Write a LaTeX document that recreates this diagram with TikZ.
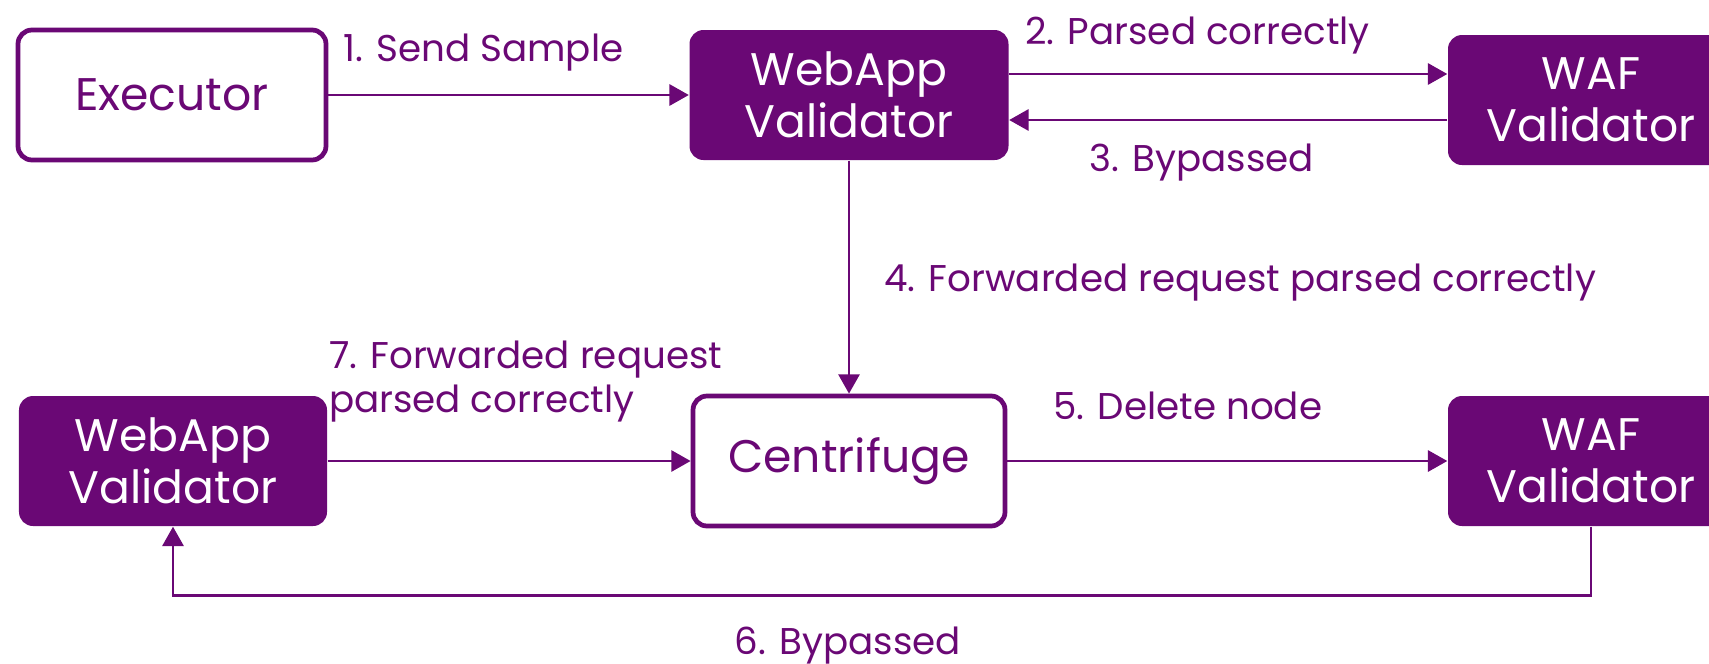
\documentclass[tikz,border=0pt]{standalone}
\usepackage{fontspec}
\setmainfont{Poppins}
\usetikzlibrary{arrows.meta,calc,positioning}
\definecolor{wafpurple}{HTML}{6A0875}
\tikzset{
  box/.style={rectangle, rounded corners=1.4mm, minimum width=3.1cm, minimum height=1.3cm,
    align=center, inner sep=0pt, font=\fontsize{13}{14.8}\selectfont},
  hollow/.style={box, draw=wafpurple, line width=1.35pt, fill=white, text=wafpurple},
  validator/.style={box, fill=wafpurple, text=white},
  flow/.style={-{Triangle[length=5.5pt,width=6pt]}, draw=wafpurple, line width=0.75pt},
  lbl/.style={text=wafpurple, inner sep=0pt, font=\fontsize{10.6}{12.5}\selectfont}
}
\begin{document}
\begin{tikzpicture}
\clip (0,0) rectangle (17.09,6.63);
% top row
\node[hollow, minimum width=3.08cm] (exec) at (1.72,5.68) {Executor};
\node[validator, minimum width=3.19cm] (val1) at (8.49,5.68) {WebApp\\Validator};
\node[validator, minimum width=2.86cm] (waf1) at (15.91,5.63) {WAF\\Validator};
% bottom row
\node[validator, minimum width=3.08cm] (val2) at (1.73,2.02) {WebApp\\Validator};
\node[hollow, minimum width=3.12cm] (centri) at (8.49,2.02) {Centrifuge};
\node[validator, minimum width=2.86cm] (waf2) at (15.91,2.02) {WAF\\Validator};
% steps
\draw[flow] (exec) -- node[lbl, pos=0.43, anchor=base, yshift=3.4mm] {1. Send Sample} (val1);
\coordinate (p2) at ($(val1.east)+(0,0.21)$);
\draw[flow] (p2) -- node[lbl, pos=0.43, anchor=base, yshift=3.0mm] {2. Parsed correctly} (p2 -| waf1.west);
\coordinate (p3) at ($(waf1.west)+(0,-0.20)$);
\draw[flow] (p3) -- node[lbl, pos=0.56, anchor=base, yshift=-5.1mm] {3. Bypassed} (p3 -| val1.east);
\draw[flow] (val1) -- node[lbl, pos=0.56, anchor=base west, xshift=3.4mm] {4. Forwarded request parsed correctly} (centri);
\draw[flow] (centri) -- node[lbl, pos=0.41, anchor=base, yshift=4.2mm] {5. Delete node} (waf2);
\draw[flow] (waf2.south) -- ++(0,-0.685) -| node[lbl, pos=0.262, anchor=base, yshift=-5.9mm] {6. Bypassed} (val2.south);
\draw[flow] (val2) -- node[lbl, pos=0, anchor=south west, align=left, yshift=3.8mm] {7. Forwarded request\\parsed correctly} (centri);
\end{tikzpicture}
\end{document}
